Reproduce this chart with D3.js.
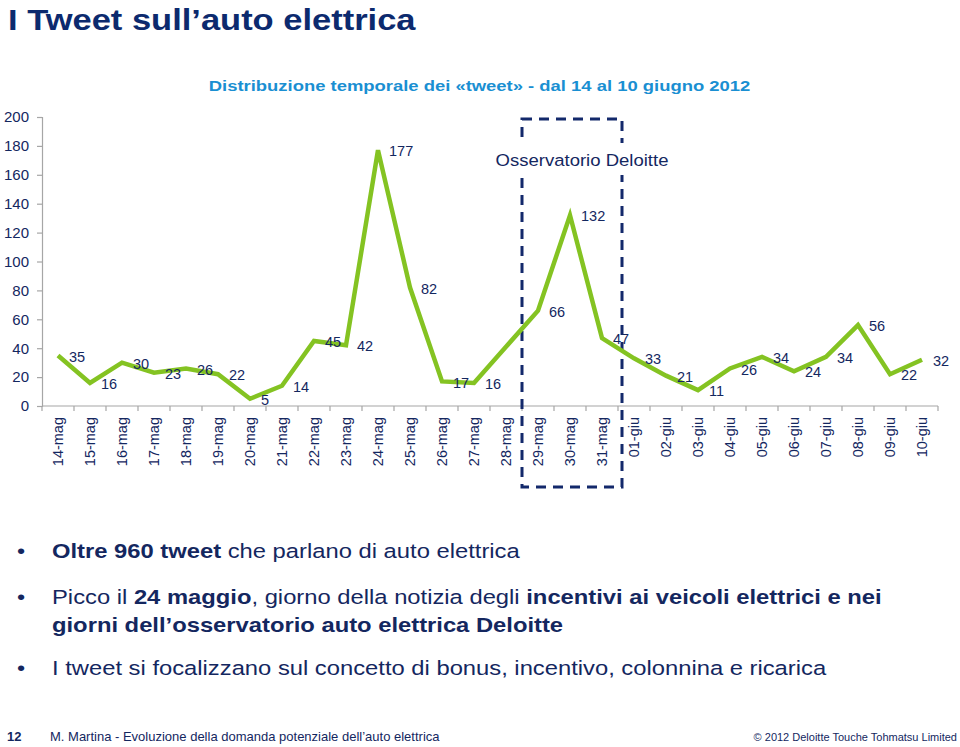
<!DOCTYPE html>
<html><head><meta charset="utf-8">
<script src="https://cdn.jsdelivr.net/npm/d3@7"></script>
<style>
html,body{margin:0;padding:0;background:#fff;}
svg{display:block;font-family:"Liberation Sans",Arial,sans-serif;}
</style></head>
<body>
<svg id="c" width="960" height="747"></svg>
<script>
const categories = ["14-mag","15-mag","16-mag","17-mag","18-mag","19-mag","20-mag","21-mag","22-mag","23-mag","24-mag","25-mag","26-mag","27-mag","28-mag","29-mag","30-mag","31-mag","01-giu","02-giu","03-giu","04-giu","05-giu","06-giu","07-giu","08-giu","09-giu","10-giu"];
const values = [35,16,30,23,26,22,5,14,45,42,177,82,17,16,41,66,132,47,33,21,11,26,34,24,34,56,22,32];
const labelShown = [1,1,1,1,1,1,1,1,1,1,1,1,1,1,0,1,1,1,1,1,1,1,1,1,1,1,1,1];
const yTicks = [0,20,40,60,80,100,120,140,160,180,200];
const boxCategories = ["29-mag","31-mag"];
const boxLabel = "Osservatorio Deloitte";

const navy = "#14275f";
const svg = d3.select("#c");

function stext(xp, yp, sx, opts){
  const g = svg.append("g").attr("transform",`translate(${xp},${yp}) scale(${sx},1)`);
  const t = g.append("text").attr("x",0).attr("y",0);
  Object.entries(opts).forEach(([k,v])=>{ if(k!=="text") t.attr(k,v); });
  if(opts.text!==undefined) t.text(opts.text);
  return t;
}

// Title
stext(8,30,1.15,{"font-size":30,"font-weight":"bold",fill:"#0c2a6e",text:"I Tweet sull\u2019auto elettrica"});
stext(479.5,91,1.19,{"text-anchor":"middle","font-size":15.5,"font-weight":"bold",fill:"#1a8fd2",
  text:"Distribuzione temporale dei \u00abtweet\u00bb - dal 14 al 10 giugno 2012"});

const x = d3.scaleBand().domain(categories).range([42,938]).paddingInner(0).paddingOuter(0);
const y = d3.scaleLinear().domain([0,200]).range([406,117]);

// Y axis
const yAxis = svg.append("g").attr("transform","translate(42,0)")
  .call(d3.axisLeft(y).tickValues(yTicks).tickSize(5).tickPadding(8));
yAxis.select(".domain").attr("stroke","#a6a6a6").attr("stroke-width",1.2);
yAxis.selectAll(".tick line").attr("stroke","#a6a6a6").attr("stroke-width",1.2);
yAxis.selectAll("text").attr("font-size",15).attr("fill",navy).attr("font-family","Liberation Sans, Arial, sans-serif");

// X axis
const xg = svg.append("g");
xg.append("line").attr("x1",42).attr("x2",938).attr("y1",y(0)).attr("y2",y(0))
  .attr("stroke","#a6a6a6").attr("stroke-width",1.2);
const bounds = categories.map(c=>x(c)).concat([x(categories[categories.length-1])+x.bandwidth()]);
xg.selectAll(".xt").data(bounds).join("line").attr("x1",d=>d).attr("x2",d=>d)
  .attr("y1",y(0)).attr("y2",y(0)+5).attr("stroke","#a6a6a6").attr("stroke-width",1.2);
xg.selectAll(".xl").data(categories).join("text")
  .attr("transform",d=>`translate(${x(d)+x.bandwidth()/2},417) rotate(-90)`)
  .attr("text-anchor","end").attr("dy","0.35em").attr("font-size",14.5).attr("fill",navy).text(d=>d);

// Dashed box
const bx0 = x(boxCategories[0]), bx1 = x(boxCategories[1]) + x.bandwidth() + 4;
svg.append("rect").attr("x",bx0).attr("y",119).attr("width",bx1-bx0).attr("height",487-119)
  .attr("fill","none").attr("stroke","#13296b").attr("stroke-width",3).attr("stroke-dasharray","10,7");
svg.append("rect").attr("x",490).attr("y",143).attr("width",184).attr("height",32).attr("fill","#fff");
stext(582,166,1.09,{"text-anchor":"middle","font-size":17,fill:navy,text:boxLabel});

// Line
const pts = categories.map((c,i)=>({c,v:values[i],show:labelShown[i]}));
svg.append("path").datum(pts).attr("fill","none").attr("stroke","#84c322").attr("stroke-width",4.5)
  .attr("stroke-linejoin","miter")
  .attr("d",d3.line().x(d=>x(d.c)+x.bandwidth()/2).y(d=>y(d.v)));

svg.selectAll(".dl").data(pts.filter(d=>d.show)).join("text")
  .attr("x",d=>x(d.c)+x.bandwidth()/2+11).attr("y",d=>y(d.v)+1).attr("dy","0.35em")
  .attr("font-size",14.5).attr("fill",navy).text(d=>d.v);

// Bullets
const bullets = [
  {y:558, parts:[["Oltre 960 tweet",true],[" che parlano di auto elettrica",false]]},
  {y:604, parts:[["Picco il ",false],["24 maggio",true],[", giorno della notizia degli ",false],["incentivi ai veicoli elettrici e nei",true]]},
  {y:632, parts:[["giorni dell\u2019osservatorio auto elettrica Deloitte",true]], nob:true},
  {y:675, parts:[["I tweet si focalizzano sul concetto di bonus, incentivo, colonnina e ricarica",false]]}
];
bullets.forEach(b=>{
  if(!b.nob) stext(17,b.y,1.16,{"font-size":20,fill:navy,text:"\u2022"});
  const t = stext(52,b.y,1.16,{"font-size":20.5,fill:navy});
  b.parts.forEach(p=>t.append("tspan").attr("font-weight",p[1]?"bold":"normal").text(p[0]));
});

// Footer
svg.append("text").attr("x",7).attr("y",741).attr("font-size",13).attr("font-weight","bold").attr("fill",navy).text("12");
svg.append("text").attr("x",50).attr("y",741).attr("font-size",13).attr("fill",navy)
  .text("M. Martina - Evoluzione della domanda potenziale dell\u2019auto elettrica");
svg.append("text").attr("x",957).attr("y",741).attr("text-anchor","end").attr("font-size",11).attr("fill",navy)
  .text("\u00a9 2012 Deloitte Touche Tohmatsu Limited");
</script>
</body></html>
